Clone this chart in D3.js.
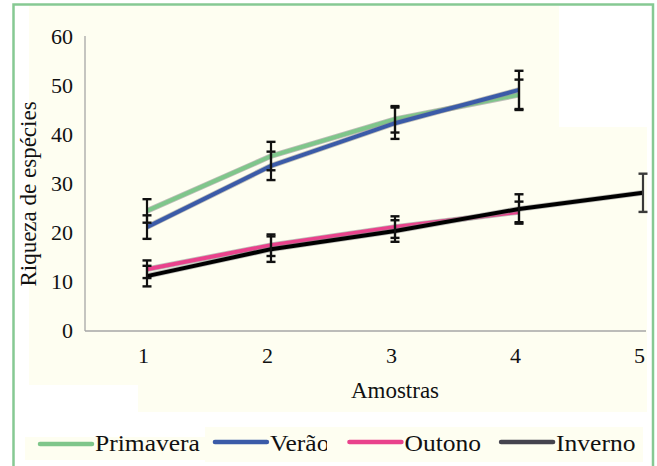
<!DOCTYPE html>
<html>
<head>
<meta charset="utf-8">
<script src="https://cdn.jsdelivr.net/npm/d3@7"></script>
<style>
  html, body { margin: 0; padding: 0; background: #ffffff; }
  svg { display: block; }
  text { font-family: "Liberation Serif", "Times New Roman", serif; fill: #111; }
</style>
</head>
<body>
<svg id="chart" width="657" height="466"></svg>
<script>
// ---- data ----
const samples = [1, 2, 3, 4, 5];
const seriesNames = ["Primavera", "Verão", "Outono", "Inverno"];
const primavera    = [24.3, 35.5, 43.0, 48.0];
const primaveraErr = [2.4, 2.9, 2.7, 3.1];
const verao        = [21.0, 33.5, 42.2, 49.0];
const veraoErr     = [2.4, 2.9, 3.2, 3.9];
const outono       = [12.4, 17.3, 21.0, 24.1];
const outonoErr    = [1.8, 2.2, 2.2, 2.1];
const inverno      = [11.0, 16.5, 20.2, 24.7, 28.0];
const invernoErr   = [2.1, 2.6, 2.2, 3.0, 3.9];
const yTicks = [0, 10, 20, 30, 40, 50, 60];
const xTitle = "Amostras";
const yTitle = "Riqueza de espécies";

const colors = ["#7fc68b", "#3b5ba8", "#e9428c", "#000000"];
const legendColors = ["#7fc68b", "#3b5ba8", "#e9428c", "#45444f"];
const allValues = [primavera, verao, outono, inverno];
const allErrs = [primaveraErr, veraoErr, outonoErr, invernoErr];

const svg = d3.select("#chart");

// ---- background (scan patches) ----
const cream = "#fefef1";
const bg = svg.append("g");
bg.append("rect").attr("x", 29).attr("y", 6).attr("width", 530).attr("height", 379).attr("fill", cream);
bg.append("rect").attr("x", 138).attr("y", 6).attr("width", 421).attr("height", 406).attr("fill", cream);
bg.append("rect").attr("x", 559).attr("y", 127).attr("width", 88).attr("height", 285).attr("fill", cream);
bg.append("rect").attr("x", 25).attr("y", 437).attr("width", 180).attr("height", 23).attr("fill", cream);
bg.append("rect").attr("x", 205).attr("y", 427).attr("width", 438).attr("height", 35).attr("fill", cream);
bg.append("rect").attr("x", 13.5).attr("y", 4.5).attr("width", 639.5).attr("height", 480)
  .attr("fill", "none").attr("stroke", "#86c993").attr("stroke-width", 2.5);

// ---- scales ----
const x = d3.scaleLinear().domain([1, 5]).range([147, 643]);
const y = d3.scaleLinear().domain([0, 60]).range([330, 36]);

// ---- axes ----
const axisColor = "#a6a6a6";
svg.append("line").attr("x1", 85).attr("x2", 85).attr("y1", y(60)).attr("y2", y(0) + 1)
  .attr("stroke", axisColor).attr("stroke-width", 1.3);
svg.append("line").attr("x1", 85).attr("x2", 646).attr("y1", y(0) + 1).attr("y2", y(0) + 1)
  .attr("stroke", axisColor).attr("stroke-width", 1.3);

const yAxis = svg.append("g").attr("transform", "translate(85,0)")
  .call(d3.axisLeft(y).tickValues(yTicks).tickSize(0).tickPadding(12).tickFormat(d3.format("d")));
yAxis.select(".domain").remove();
yAxis.selectAll("text").style("font-family", "Liberation Serif, serif").style("font-size", "22px").attr("fill", "#111");

const xAxis = svg.append("g").attr("transform", `translate(-4,${y(0) + 1})`)
  .call(d3.axisBottom(x).tickValues(samples).tickSize(0).tickPadding(16).tickFormat(d3.format("d")));
xAxis.select(".domain").remove();
xAxis.selectAll("text").style("font-family", "Liberation Serif, serif").style("font-size", "22px").attr("fill", "#111");

svg.append("text").attr("x", 395).attr("y", 398).attr("text-anchor", "middle")
  .style("font-size", "23px").text(xTitle);
svg.append("text").attr("transform", "translate(36,194) rotate(-90)").attr("text-anchor", "middle")
  .style("font-size", "23px").text(yTitle);

// ---- lines ----
const line = d3.line().x((d, i) => x(samples[i])).y(d => y(d));
const linesG = svg.append("g");
allValues.forEach((vals, s) => {
  linesG.append("path").datum(vals).attr("d", line).attr("fill", "none")
    .attr("stroke", "#8a8a8a").attr("stroke-opacity", 0.55).attr("stroke-width", 5.6);
  linesG.append("path").datum(vals).attr("d", line).attr("fill", "none")
    .attr("stroke", colors[s]).attr("stroke-width", 4);
});

// ---- error bars ----
const errG = svg.append("g");
allValues.forEach((vals, s) => {
  vals.forEach((v, i) => {
    const e = allErrs[s][i];
    const cx = x(samples[i]);
    const col = (i === 4) ? "#3a3a3a" : "#111";
    errG.append("line").attr("x1", cx).attr("x2", cx).attr("y1", y(v + e)).attr("y2", y(v - e))
      .attr("stroke", col).attr("stroke-width", 2.2);
    [v + e, v - e].forEach(t => {
      errG.append("line").attr("x1", cx - 4.5).attr("x2", cx + 4.5).attr("y1", y(t)).attr("y2", y(t))
        .attr("stroke", col).attr("stroke-width", 2.4);
    });
  });
});

// ---- legend ----
svg.append("clipPath").attr("id", "legClip")
  .append("rect").attr("x", 0).attr("y", 400).attr("width", 327).attr("height", 66);
const leg = svg.append("g");
let cx = 40;
seriesNames.forEach((name, s) => {
  const ly = s === 0 ? 444 : 442;
  leg.append("line").attr("x1", cx).attr("x2", cx + 52).attr("y1", ly).attr("y2", ly)
    .attr("stroke", legendColors[s]).attr("stroke-width", 4.5).attr("stroke-linecap", "round");
  const t = leg.append("text").attr("x", cx + 55).attr("y", 451).style("font-size", "23px").text(name);
  const w = t.node().getComputedTextLength() * 1.11;
  t.attr("textLength", w).attr("lengthAdjust", "spacingAndGlyphs");
  if (s === 1) t.attr("clip-path", "url(#legClip)");
  cx = cx + 55 + w + (s === 0 ? 15 : 20);
});
</script>
</body>
</html>
